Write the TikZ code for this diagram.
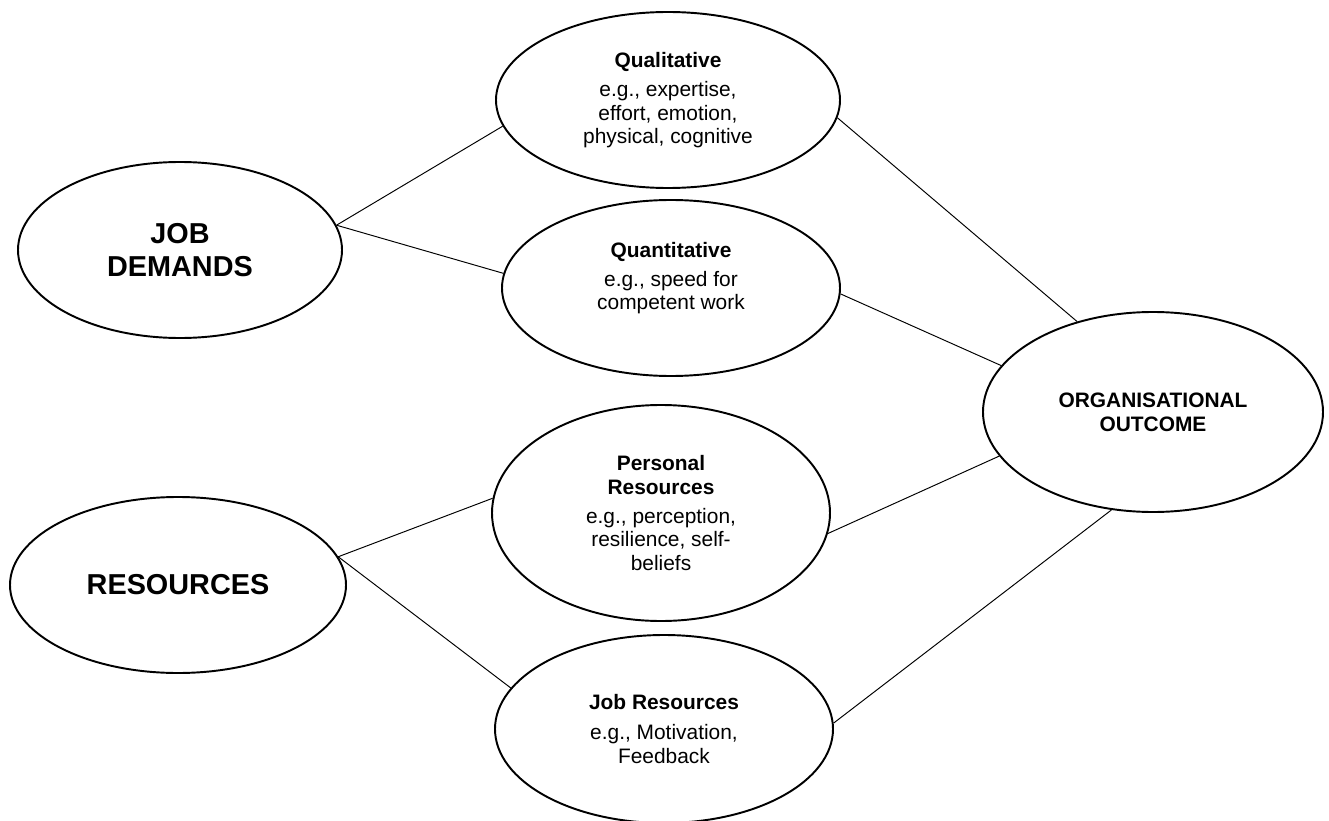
\documentclass[tikz,border=0pt]{standalone}
\usepackage{fontspec}
\setmainfont{Liberation Sans}
\usetikzlibrary{shapes.geometric}
\begin{document}
\begin{tikzpicture}[x=0.02cm, y=-0.02cm,
  oval/.style 2 args={ellipse, draw, line width=1.1pt, inner sep=0pt,
    minimum width=#1*0.02cm, minimum height=#2*0.02cm, align=center},
  link/.style={line width=0.55pt},
  head/.style={font=\fontsize{16.4}{18.7}\selectfont\bfseries},
  body/.style={font=\fontsize{11.9}{13.4}\selectfont},
  outcome/.style={font=\fontsize{11.9}{13.6}\selectfont\bfseries}]
\useasboundingbox (0,0) rectangle (1329,821);

% main groups on the left
\node[oval={324}{176}, head] (jd)  at (180,250) {JOB\\DEMANDS};
\node[oval={336}{176}, head] (res) at (178,585) {RESOURCES};

% job demands
\node[oval={344}{176}, body] (qual) at (668,100)
  {\textbf{Qualitative}\\[3.5pt] e.g., expertise,\\ effort, emotion,\\ physical, cognitive};
\node[oval={338}{176}] (quant) at (671,288) {};
\node[body, align=center, inner sep=0pt] (quanttxt) at (671,278)
  {\textbf{Quantitative}\\[3pt] e.g., speed for\\ competent work};

% resources
\node[oval={338}{216}, body] (pr) at (661,513)
  {\textbf{Personal}\\ \textbf{Resources}\\[3pt] e.g., perception,\\ resilience, self-\\ beliefs};
\node[oval={338}{188}, body] (jr) at (664,729)
  {\textbf{Job Resources}\\[3.5pt] e.g., Motivation,\\ Feedback};

% outcome
\node[oval={340}{200}, outcome] (oo) at (1153,412) {ORGANISATIONAL\\OUTCOME};

% connectors
\draw[link] (jd.9) -- (qual.189);
\draw[link] (jd.9) -- (quant.175);
\draw[link] (res.10) -- (pr.175);
\draw[link] (res.10) -- (jr.165);
\draw[link] (qual.354) -- (oo.130);
\draw[link] (quant.358) -- (oo.163);
\draw[link] (pr.353) -- (oo.196);
\draw[link] (jr.2) -- (oo.247);
\end{tikzpicture}
\end{document}
